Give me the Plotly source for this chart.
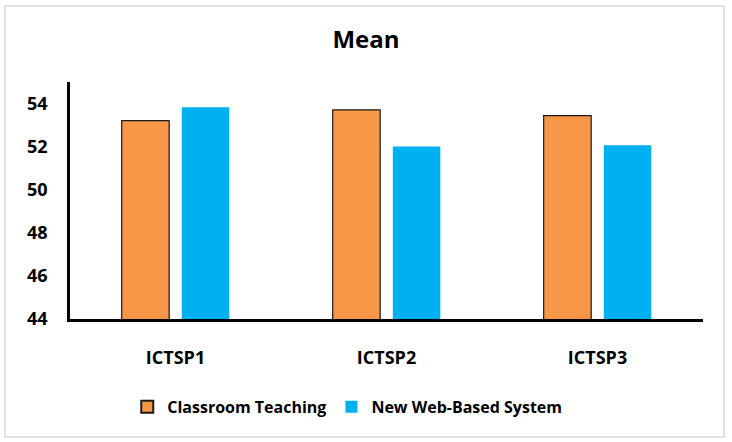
import plotly.graph_objects as go

categories = ["ICTSP1", "ICTSP2", "ICTSP3"]
classroom = [53.21, 53.71, 53.44]
web_based = [53.83, 52.01, 52.06]
y_ticks = [44, 46, 48, 50, 52, 54]

FONT = "Open Sans"

fig = go.Figure()
fig.add_trace(go.Bar(
    x=categories, y=classroom, name="Classroom Teaching",
    marker=dict(color="#F79646", line=dict(color="#1a1a1a", width=1.2)),
))
fig.add_trace(go.Bar(
    x=categories, y=web_based, name="New Web-Based System",
    marker=dict(color="#00B0F0", line=dict(width=0)),
))

fig.update_layout(
    width=732, height=442,
    margin=dict(l=70, r=29, t=82, b=123),
    paper_bgcolor="white", plot_bgcolor="white",
    barmode="group", bargap=0.43, bargroupgap=0.21,
    title=dict(text="Mean", x=0.5, xanchor="center", y=1 - 40 / 442, yanchor="middle",
               font=dict(family=FONT, size=24, color="black", weight="bold")),
    showlegend=True,
    legend=dict(orientation="h", x=0.438, xanchor="center", y=-0.371, yanchor="middle",
                font=dict(family=FONT, size=16, color="black", weight="bold"),
                itemsizing="constant", itemwidth=30),
    font=dict(family=FONT, color="black"),
)
fig.update_xaxes(
    showline=True, linecolor="black", linewidth=2.5, showgrid=False,
    ticks="outside", ticklen=21, tickcolor="rgba(0,0,0,0)",
    tickfont=dict(family=FONT, size=18, color="black", weight="bold"),
)
fig.update_yaxes(
    range=[44, 55], tickvals=y_ticks, showline=True, linecolor="black", linewidth=2.5,
    showgrid=False, zeroline=False,
    ticks="outside", ticklen=16, tickcolor="rgba(0,0,0,0)",
    tickfont=dict(family=FONT, size=18, color="black", weight="bold"),
)
fig.add_shape(type="rect", xref="paper", yref="paper",
              x0=(5 - 70) / 633, x1=(724 - 70) / 633,
              y0=(319 - 437) / 237, y1=(319 - 6) / 237,
              line=dict(color="#d9d9d9", width=1.5), fillcolor="rgba(0,0,0,0)", layer="below")

fig.write_html("out.html")
